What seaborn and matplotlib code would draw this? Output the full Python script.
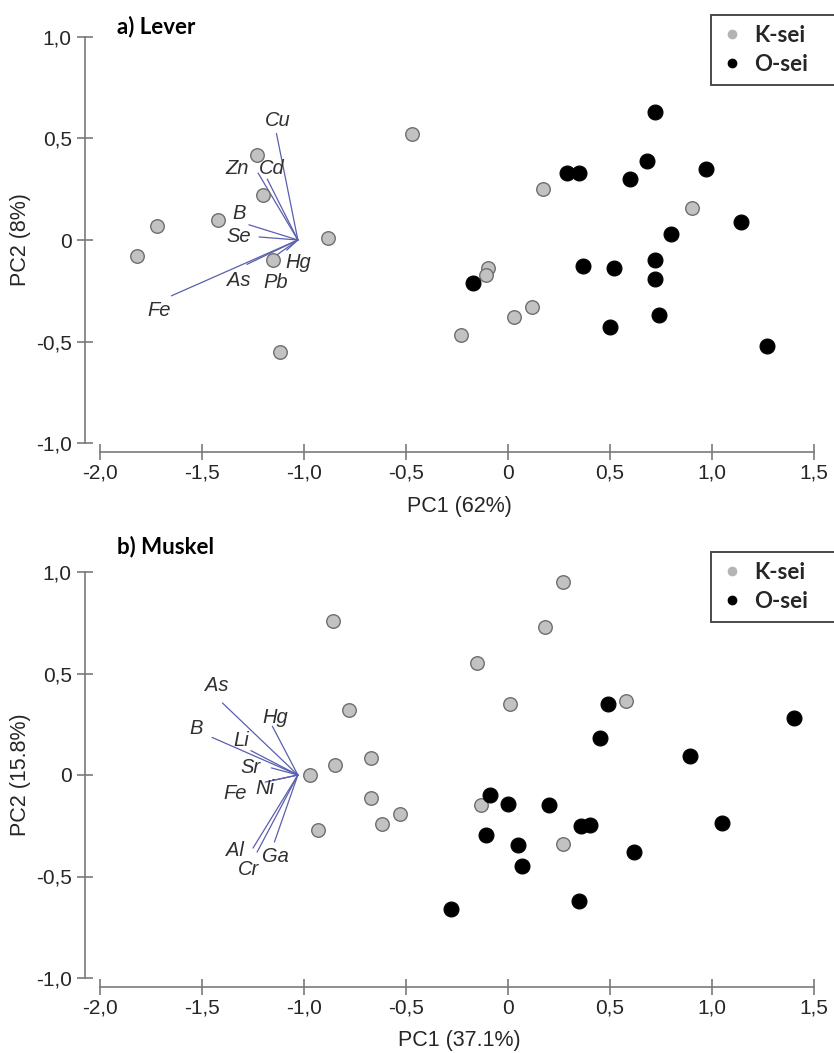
import matplotlib
matplotlib.use('Agg')
import matplotlib.pyplot as plt
import seaborn as sns
import pandas as pd
from matplotlib.lines import Line2D
from matplotlib.ticker import FuncFormatter

sns.set_theme(style='white')
plt.rcParams['font.family'] = ['Liberation Sans', 'DejaVu Sans']

# ---- a) Lever: scores ----
lever_k_pc1 = [-0.47, -1.23, -1.20, -1.42, -1.72, -1.82, -0.88, -1.15, -1.12, 0.17, 0.90, -0.10, -0.11, 0.12, 0.03, -0.23]
lever_k_pc2 = [0.52, 0.42, 0.22, 0.10, 0.07, -0.08, 0.01, -0.10, -0.55, 0.25, 0.16, -0.14, -0.17, -0.33, -0.38, -0.47]
lever_o_pc1 = [0.72, 0.68, 0.97, 0.29, 0.35, 0.60, 1.14, 0.80, 0.72, 0.37, 0.52, 0.72, -0.17, 0.74, 0.50, 1.27]
lever_o_pc2 = [0.63, 0.39, 0.35, 0.33, 0.33, 0.30, 0.09, 0.03, -0.10, -0.13, -0.14, -0.19, -0.21, -0.37, -0.43, -0.52]

# ---- a) Lever: loadings ----
lever_origin = (-1.03, 0.0)
lever_vars = ['Cu', 'Zn', 'Cd', 'B', 'Se', 'Hg', 'As', 'Pb', 'Fe']
lever_load_x = [-1.135, -1.225, -1.18, -1.27, -1.22, -1.085, -1.28, -1.17, -1.65]
lever_load_y = [0.525, 0.33, 0.30, 0.075, 0.015, -0.05, -0.12, -0.10, -0.275]
lever_lab_x = [-1.13, -1.33, -1.16, -1.32, -1.32, -1.03, -1.32, -1.14, -1.71]
lever_lab_y = [0.59, 0.35, 0.35, 0.13, 0.015, -0.11, -0.20, -0.21, -0.345]

# ---- b) Muskel: scores ----
musk_k_pc1 = [-0.86, -0.78, -0.85, -0.97, -0.67, -0.67, -0.53, -0.62, -0.93, 0.27, 0.18, -0.15, 0.01, 0.58, -0.13, 0.27]
musk_k_pc2 = [0.76, 0.32, 0.05, 0.00, 0.085, -0.115, -0.19, -0.24, -0.27, 0.95, 0.73, 0.55, 0.35, 0.365, -0.15, -0.34]
musk_o_pc1 = [0.49, 1.40, 0.45, 0.89, -0.09, 0.00, 0.20, 0.36, 0.40, 1.05, -0.11, 0.05, 0.62, 0.07, 0.35, -0.28]
musk_o_pc2 = [0.35, 0.28, 0.18, 0.095, -0.10, -0.145, -0.15, -0.25, -0.245, -0.235, -0.295, -0.345, -0.38, -0.45, -0.62, -0.66]

# ---- b) Muskel: loadings ----
musk_origin = (-1.03, 0.0)
musk_vars = ['As', 'B', 'Hg', 'Li', 'Sr', 'Ni', 'Fe', 'Al', 'Cr', 'Ga']
musk_load_x = [-1.40, -1.45, -1.155, -1.26, -1.16, -1.145, -1.19, -1.25, -1.23, -1.145]
musk_load_y = [0.355, 0.185, 0.24, 0.12, 0.035, -0.025, -0.035, -0.36, -0.38, -0.33]
musk_lab_x = [-1.43, -1.53, -1.14, -1.31, -1.26, -1.19, -1.34, -1.34, -1.27, -1.14]
musk_lab_y = [0.44, 0.23, 0.285, 0.17, 0.035, -0.065, -0.09, -0.37, -0.465, -0.40]

x_ticks = [-2.0, -1.5, -1.0, -0.5, 0.0, 0.5, 1.0, 1.5]
y_ticks = [-1.0, -0.5, 0.0, 0.5, 1.0]

W, H = 834, 1053
AXIS_GREY = '#7a7a7a'
TEXT = '#262626'
LOAD_COL = '#5a5fae'


def comma(v, pos=None):
    if abs(v) < 1e-9:
        return '0'
    return f'{v:.1f}'.replace('.', ',')


def px_axes(fig, left, top, right, bottom):
    return fig.add_axes([left / W, 1 - bottom / H, (right - left) / W, (bottom - top) / H])


def draw_panel(ax, k_x, k_y, o_x, o_y, origin, names, lx, ly, tx, ty, xlabel, ylabel):
    for i in range(len(names)):
        ax.plot([origin[0], lx[i]], [origin[1], ly[i]], color=LOAD_COL, lw=0.9, zorder=2)
    sns.scatterplot(x=k_x, y=k_y, ax=ax, color='#c2c2c2', edgecolor='#6e6e6e',
                    linewidth=1.0, s=95, legend=False, zorder=3)
    sns.scatterplot(x=o_x, y=o_y, ax=ax, color='black', edgecolor='black',
                    linewidth=0.8, s=115, legend=False, zorder=3)
    for i, name in enumerate(names):
        ax.text(tx[i], ty[i], name, fontsize=14.5, style='italic', color='#303030',
                ha='center', va='center', zorder=4)

    ax.set_xticks(x_ticks)
    ax.set_yticks(y_ticks)
    ax.xaxis.set_major_formatter(FuncFormatter(comma))
    ax.yaxis.set_major_formatter(FuncFormatter(comma))
    for side in ['top', 'right']:
        ax.spines[side].set_visible(False)
    for side in ['left', 'bottom']:
        ax.spines[side].set_color(AXIS_GREY)
        ax.spines[side].set_linewidth(1.2)
    ax.spines['left'].set_bounds(-1, 1)
    ax.spines['bottom'].set_bounds(-2, 1.5)
    ax.tick_params(axis='both', direction='inout', length=12, width=1.2,
                   color=AXIS_GREY, labelsize=15, labelcolor=TEXT,
                   bottom=True, left=True)
    ax.tick_params(axis='y', pad=3.5)
    ax.tick_params(axis='x', pad=2.5)
    ax.set_xlabel(xlabel, fontsize=15.5, color=TEXT)
    ax.set_ylabel(ylabel, fontsize=15.5, color=TEXT)
    ax.set_facecolor('none')


fig = plt.figure(figsize=(W / 100, H / 100), dpi=100)

# a) Lever  (zero of PC2 at y=240 px, 203 px per unit; PC1 -2.0 at x=100 px, 204 px per unit)
ax_a = px_axes(fig, 85, 8, 834, 452)
draw_panel(ax_a, lever_k_pc1, lever_k_pc2, lever_o_pc1, lever_o_pc2, lever_origin,
           lever_vars, lever_load_x, lever_load_y, lever_lab_x, lever_lab_y,
           'PC1 (62%)', 'PC2 (8%)')
ax_a.set_xlim(-2 - 15 / 204, -2 + 734 / 204)
ax_a.set_ylim((240 - 452) / 203, (240 - 8) / 203)
ax_a.xaxis.set_label_coords(0.5, -0.098)
ax_a.yaxis.set_label_coords(-0.072, (452 - 240) / 444)

# b) Muskel
ax_b = px_axes(fig, 85, 545, 834, 987)
draw_panel(ax_b, musk_k_pc1, musk_k_pc2, musk_o_pc1, musk_o_pc2, musk_origin,
           musk_vars, musk_load_x, musk_load_y, musk_lab_x, musk_lab_y,
           'PC1 (37.1%)', 'PC2 (15.8%)')
ax_b.set_xlim(-2 - 15 / 204, -2 + 734 / 204)
ax_b.set_ylim((775 - 987) / 203, (775 - 545) / 203)
ax_b.xaxis.set_label_coords(0.5, -0.098)
ax_b.yaxis.set_label_coords(-0.072, (987 - 775) / 442)

# panel titles
title_font = dict(fontsize=16, fontweight='bold', color='black', family=['Lato', 'DejaVu Sans'])
fig.text(117 / W, 1 - 27 / H, 'a) Lever', ha='left', va='center', **title_font)
fig.text(117 / W, 1 - 547 / H, 'b) Muskel', ha='left', va='center', **title_font)

# legends
handles = [Line2D([], [], marker='o', linestyle='', markersize=6, color='#b4b4b4', label='K-sei'),
           Line2D([], [], marker='o', linestyle='', markersize=6, color='black', label='O-sei')]
for top_px in [15, 552]:
    leg = fig.legend(handles=handles, loc='upper left',
                     bbox_to_anchor=(711 / W, 1 - (top_px + 76) / H, 140 / W, 76 / H),
                     mode='expand', borderaxespad=0, frameon=True, fancybox=False,
                     framealpha=1, edgecolor='#4a4a4a', handlelength=1.0,
                     handletextpad=0.5, borderpad=0.45, labelspacing=0.35,
                     prop={'family': ['Lato', 'DejaVu Sans'], 'weight': 'bold', 'size': 16})
    leg.get_frame().set_linewidth(1.4)

fig.savefig('out.png', dpi=100)
